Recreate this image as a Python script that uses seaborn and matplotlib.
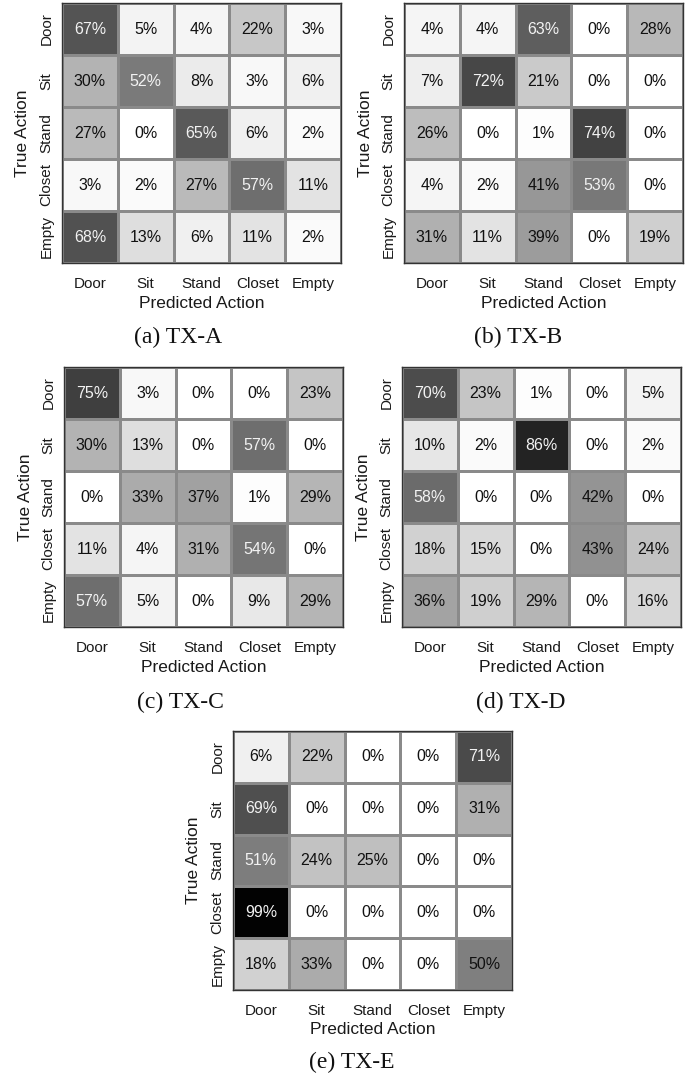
import numpy as np
import pandas as pd
import matplotlib
matplotlib.use("Agg")
import matplotlib.pyplot as plt
import seaborn as sns
from matplotlib.colors import LinearSegmentedColormap

# Confusion matrices (row = true action, column = predicted action), in percent
actions = ["Door", "Sit", "Stand", "Closet", "Empty"]

tx_a = [[67, 5, 4, 22, 3],
        [30, 52, 8, 3, 6],
        [27, 0, 65, 6, 2],
        [3, 2, 27, 57, 11],
        [68, 13, 6, 11, 2]]

tx_b = [[4, 4, 63, 0, 28],
        [7, 72, 21, 0, 0],
        [26, 0, 1, 74, 0],
        [4, 2, 41, 53, 0],
        [31, 11, 39, 0, 19]]

tx_c = [[75, 3, 0, 0, 23],
        [30, 13, 0, 57, 0],
        [0, 33, 37, 1, 29],
        [11, 4, 31, 54, 0],
        [57, 5, 0, 9, 29]]

tx_d = [[70, 23, 1, 0, 5],
        [10, 2, 86, 0, 2],
        [58, 0, 0, 42, 0],
        [18, 15, 0, 43, 24],
        [36, 19, 29, 0, 16]]

tx_e = [[6, 22, 0, 0, 71],
        [69, 0, 0, 0, 31],
        [51, 24, 25, 0, 0],
        [99, 0, 0, 0, 0],
        [18, 33, 0, 0, 50]]

captions = ["(a) TX-A", "(b) TX-B", "(c) TX-C", "(d) TX-D", "(e) TX-E"]
matrices = [tx_a, tx_b, tx_c, tx_d, tx_e]

sns.set_theme(style="white")
plt.rcParams["font.family"] = ["Liberation Sans", "DejaVu Sans"]

W, H = 699, 1078
fig = plt.figure(figsize=(W / 100, H / 100), dpi=100)

# axes boxes in pixels: left, top, width, height
boxes = [(62, 3, 279, 260), (404, 3, 279, 260),
         (64, 367, 279, 260), (402, 367, 279, 260),
         (233, 731, 279, 259)]
# caption centres in pixels
cap_pos = [(178, 337), (518, 337), (180, 702), (521, 702), (352, 1062)]

cmap = LinearSegmentedColormap.from_list("wk", ["#ffffff", "#000000"])

for mat, (l, t, w, h), cap, (cx, cy) in zip(matrices, boxes, captions, cap_pos):
    ax = fig.add_axes([l / W, 1 - (t + h) / H, w / W, h / H])
    df = pd.DataFrame(mat, index=actions, columns=actions)
    labels = df.map(lambda v: f"{v}%")
    sns.heatmap(df, ax=ax, cmap=cmap, vmin=0, vmax=100, cbar=False,
                annot=labels, fmt="", linewidths=0.9, linecolor="#8a8a8a",
                annot_kws={"fontsize": 11.5}, square=False)
    ax.set_position([l / W, 1 - (t + h) / H, w / W, h / H])
    vals = np.array(mat).ravel()
    for txt, v in zip(ax.texts, vals):
        txt.set_color("#f2f2f2" if v > 50 else "#111111")
    for s in ax.spines.values():
        s.set_visible(True)
        s.set_color("#333333")
        s.set_linewidth(1.0)
    ax.tick_params(axis="both", length=0, labelsize=11, colors="#1a1a1a")
    ax.tick_params(axis="x", pad=10)
    ax.tick_params(axis="y", pad=6)
    ax.set_xticklabels(actions, rotation=0)
    ax.set_yticklabels(actions, rotation=90, va="center")
    ax.set_xlabel("Predicted Action", fontsize=12.5, color="#1a1a1a", va="center")
    ax.set_ylabel("True Action", fontsize=12.5, color="#1a1a1a", va="center")
    ax.xaxis.set_label_coords(0.5, -40 / h)
    ax.yaxis.set_label_coords(-39 / w, 0.5)
    fig.text(cx / W, 1 - cy / H, cap, ha="center", va="center",
             fontsize=17, family=["Liberation Serif", "DejaVu Serif"], color="#111111")

fig.savefig("out.png", dpi=100)
